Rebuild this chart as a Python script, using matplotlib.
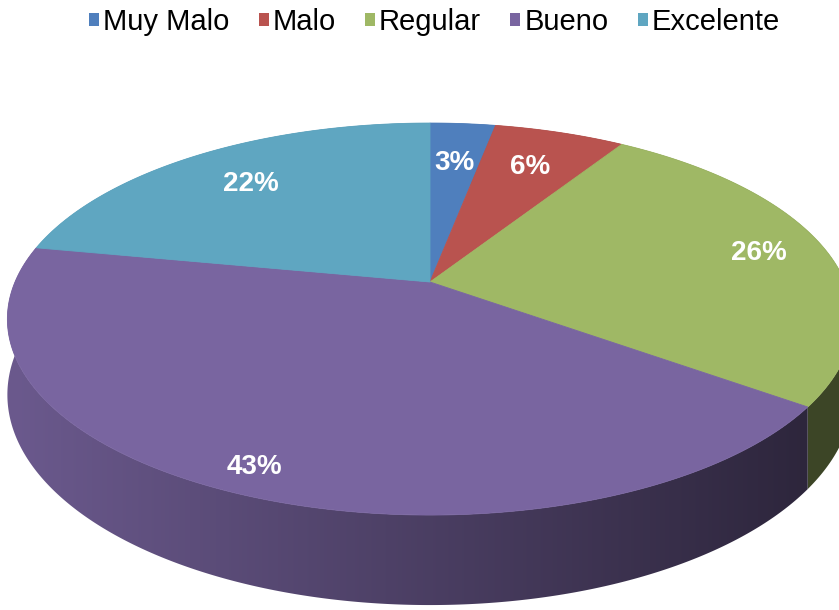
import numpy as np
import matplotlib.pyplot as plt
from matplotlib.patches import Polygon, Patch
from matplotlib.colors import to_rgb

# Datos
categorias = ['Muy Malo', 'Malo', 'Regular', 'Bueno', 'Excelente']
porcentajes = [3, 6, 26, 43, 22]
colores = ['#4f7fbd', '#b9534f', '#9fb865', '#7965a0', '#5fa6c1']

plt.rcParams['font.family'] = ['Liberation Sans', 'DejaVu Sans']

W, H = 839, 610
fig = plt.figure(figsize=(W / 100, H / 100), dpi=100)
ax = fig.add_axes([0, 0, 1, 1])
ax.set_xlim(0, W)
ax.set_ylim(H, 0)
ax.axis('off')

# geometría de la torta 3D (perspectiva simple)
cx, cy = 430, 282
rx, ry = 415, 189
k = 0.189
grosor = 73
label_r = [0.72, 0.74, 0.83, 0.9, 0.75]


def proy(theta, r=1.0):
    x = r * np.sin(theta)
    y = r * np.cos(theta)
    d = 1 + k * y
    return cx + rx * x / d, cy - ry * y / d


total = float(sum(porcentajes))
limites = np.concatenate([[0], np.cumsum(porcentajes)]) / total * 2 * np.pi

# gradiente horizontal para las paredes (claro a la izquierda, oscuro a la derecha)
xs = np.linspace(0, W, 400)
factor = 0.88 - 0.50 * np.clip((xs - 15) / (800 - 15), 0, 1)

# paredes laterales: de atras hacia adelante
orden = sorted(range(len(porcentajes)),
               key=lambda i: -np.min(np.cos(np.linspace(limites[i], limites[i + 1], 50))))
for i in orden:
    a0, a1 = limites[i], limites[i + 1]
    ts = np.linspace(a0, a1, 300)
    arriba = [proy(t) for t in ts]
    abajo = [(x, y + grosor / (1 + k * np.cos(t))) for (x, y), t in zip(arriba, ts)]
    pts = arriba + abajo[::-1]
    base = np.array(to_rgb(colores[i]))
    grad = np.clip(factor[None, :, None] * base[None, None, :], 0, 1)
    pared = Polygon(pts, closed=True, facecolor='none', edgecolor='none')
    ax.add_patch(pared)
    im = ax.imshow(grad, extent=(0, W, H, 0), aspect='auto', interpolation='bilinear')
    im.set_clip_path(pared)

# caras superiores
for i in range(len(porcentajes)):
    a0, a1 = limites[i], limites[i + 1]
    ts = np.linspace(a0, a1, 200)
    pts = [(cx, cy)] + [proy(t) for t in ts]
    ax.add_patch(Polygon(pts, closed=True, facecolor=colores[i],
                         edgecolor=colores[i], linewidth=0.6))

ax.set_xlim(0, W)
ax.set_ylim(H, 0)

# etiquetas
for i, p in enumerate(porcentajes):
    mid = (limites[i] + limites[i + 1]) / 2
    lx, ly = proy(mid, label_r[i])
    ax.text(lx, ly, f'{p}%', color='white', fontsize=20, fontweight='bold',
            ha='center', va='center')

# leyenda
handles = [Patch(facecolor=c, edgecolor='none') for c in colores]
fig.legend(handles, categorias, loc='center', bbox_to_anchor=(434.5 / W, 1 - 22 / H),
           ncol=5, frameon=False, fontsize=21, handlelength=0.34, handleheight=0.34,
           handletextpad=0.14, columnspacing=1.0, borderaxespad=0)

fig.savefig('out.png', dpi=100)
